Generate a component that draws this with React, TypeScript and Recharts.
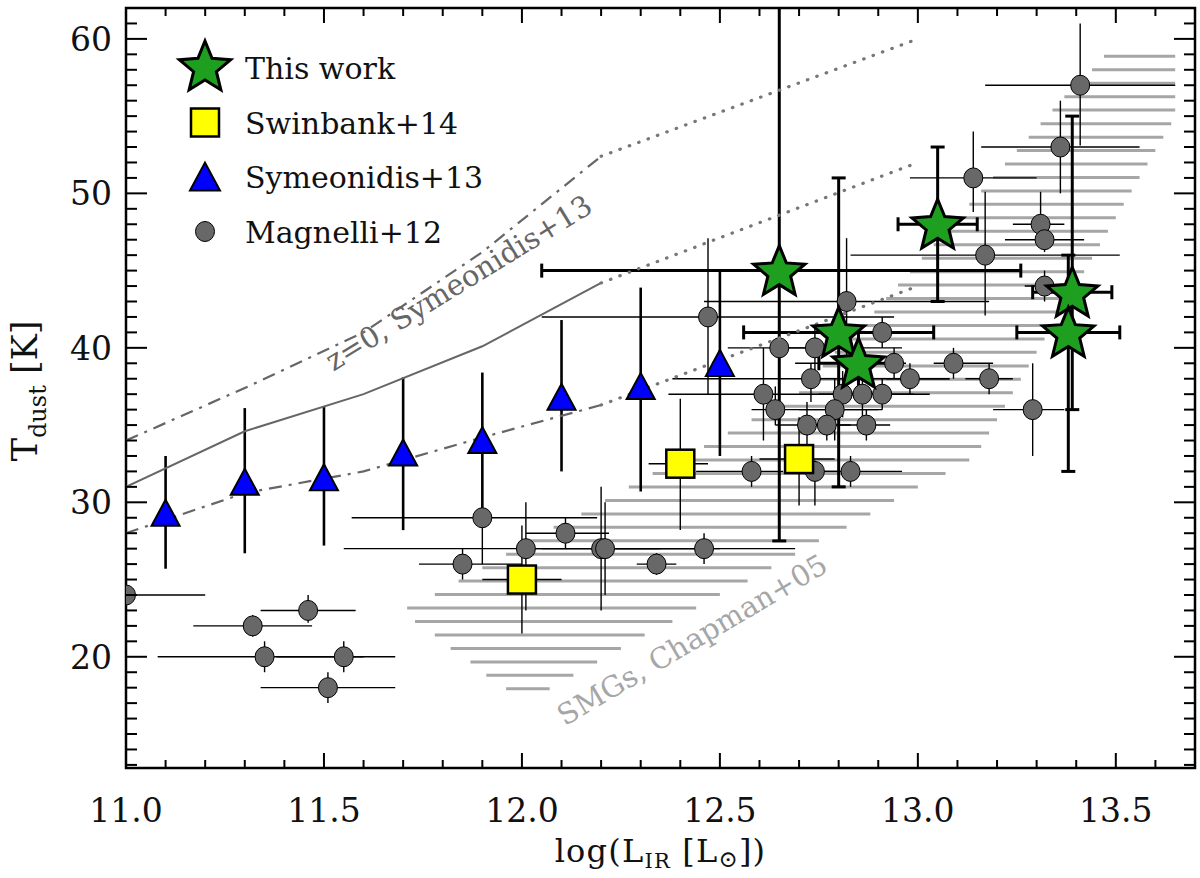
import React from "react"
import {
  ScatterChart,
  Scatter,
  XAxis,
  YAxis,
  ErrorBar,
  ReferenceArea,
  ReferenceDot,
} from "recharts"

// layout (px) — plot frame sits at these edges
const WIDTH = 1200
const HEIGHT = 878
const PLOT_LEFT = 126
const PLOT_TOP = 8
const PLOT_RIGHT = 1195
const PLOT_BOTTOM = 768

const X_DOMAIN = [11.0, 13.7]
const Y_DOMAIN = [12.8, 62]

const FONT = "'DejaVu Serif', 'Liberation Serif', serif"

// ---- ticks ----
const xTicks = [
  11.0, 11.1, 11.2, 11.3, 11.4, 11.5, 11.6, 11.7, 11.8, 11.9,
  12.0, 12.1, 12.2, 12.3, 12.4, 12.5, 12.6, 12.7, 12.8, 12.9,
  13.0, 13.1, 13.2, 13.3, 13.4, 13.5, 13.6,
]
const xMajor = [11.0, 11.5, 12.0, 12.5, 13.0, 13.5]

const yTicks = [
  13, 14, 15, 16, 17, 18, 19, 20, 21, 22, 23, 24, 25, 26, 27, 28, 29, 30,
  31, 32, 33, 34, 35, 36, 37, 38, 39, 40, 41, 42, 43, 44, 45, 46, 47, 48,
  49, 50, 51, 52, 53, 54, 55, 56, 57, 58, 59, 60, 61,
]
const yMajor = [20, 30, 40, 50, 60]

// ---- This work (stars) ----
const starX   = [12.65, 12.80, 12.85, 13.05, 13.39, 13.38]
const starY   = [45.0, 41.0, 39.0, 48.0, 43.6, 41.0]
const starXLo = [12.05, 12.56, 12.75, 12.95, 13.29, 13.25]
const starXHi = [13.26, 13.04, 12.95, 13.15, 13.49, 13.51]
const starYLo = [27.5, 31.0, 37.0, 43.0, 36.0, 32.0]
const starYHi = [64.0, 51.0, 41.0, 53.0, 55.0, 46.0]

// ---- Swinbank+14 (squares) ----
const swinX   = [12.00, 12.40, 12.70]
const swinY   = [25.0, 32.5, 32.8]
const swinXLo = [11.90, 12.32, 12.60]
const swinXHi = [12.10, 12.47, 12.79]
const swinYLo = [21.5, 28.2, 29.8]
const swinYHi = [28.5, 36.7, 35.5]

// ---- Symeonidis+13 (triangles) ----
const symX   = [11.1, 11.3, 11.5, 11.7, 11.9, 12.1, 12.3, 12.5]
const symY   = [29.3, 31.3, 31.6, 33.2, 34.0, 36.8, 37.5, 39.0]
const symYLo = [25.7, 26.7, 27.2, 28.2, 29.5, 32.0, 30.7, 33.0]
const symYHi = [33.0, 36.1, 36.2, 38.1, 38.4, 41.8, 43.9, 45.0]

// ---- Magnelli+12 (circles) ----
const magX = [
  11.00, 11.32, 11.46, 11.35, 11.55, 11.51, 11.85, 11.90, 12.01, 12.11,
  12.20, 12.21, 12.34, 12.46, 12.58, 12.74, 12.83, 12.47, 12.82, 12.65,
  12.74, 12.91, 12.73, 12.94, 12.98, 13.09, 13.18, 12.61, 12.81, 12.86,
  12.91, 12.64, 12.79, 12.72, 12.77, 12.87, 13.29, 13.41, 13.36, 13.14,
  13.31, 13.32, 13.17, 13.32,
]
const magY = [
  24.0, 22.0, 23.0, 20.0, 20.0, 18.0, 26.0, 29.0, 27.0, 28.0,
  27.0, 27.0, 26.0, 27.0, 32.0, 32.0, 32.0, 42.0, 43.0, 40.0,
  40.0, 41.0, 38.0, 39.0, 38.0, 39.0, 38.0, 37.0, 37.0, 37.0,
  37.0, 36.0, 36.0, 35.0, 35.0, 35.0, 36.0, 57.0, 53.0, 51.0,
  48.0, 47.0, 46.0, 44.0,
]
const magXLo = [
  10.80, 11.17, 11.34, 11.08, 11.38, 11.34, 11.74, 11.57, 11.55, 12.01,
  12.00, 12.05, 12.29, 12.21, 12.44, 12.68, 12.73, 12.05, 12.46, 12.52,
  12.65, 12.85, 12.38, 12.69, 12.92, 13.04, 13.12, 12.37, 12.75, 12.80,
  12.85, 12.58, 12.70, 12.64, 12.70, 12.80, 13.19, 13.17, 13.16, 12.98,
  13.24, 13.22, 12.83, 13.27,
]
const magXHi = [
  11.20, 11.47, 11.58, 11.60, 11.68, 11.68, 12.00, 12.19, 12.35, 12.22,
  12.45, 12.50, 12.39, 12.69, 12.66, 12.80, 12.96, 12.94, 13.18, 12.96,
  12.85, 12.96, 13.08, 12.97, 13.08, 13.19, 13.24, 13.03, 12.88, 12.92,
  12.99, 12.91, 12.90, 12.80, 12.83, 12.93, 13.37, 13.65, 13.56, 13.30,
  13.37, 13.42, 13.51, 13.37,
]
const magYLo = [
  23.5, 21.3, 22.2, 19.0, 19.0, 17.0, 25.0, 26.0, 23.0, 27.0,
  23.0, 24.0, 25.3, 26.0, 31.0, 29.8, 31.0, 37.0, 38.0, 36.0,
  38.5, 40.0, 36.5, 38.0, 37.0, 38.0, 37.0, 34.0, 35.5, 35.0,
  36.0, 35.0, 34.0, 33.5, 34.0, 34.0, 33.0, 53.1, 50.0, 48.8,
  47.2, 46.2, 42.1, 43.0,
]
const magYHi = [
  24.5, 22.7, 24.0, 21.0, 21.0, 19.0, 27.0, 30.0, 30.0, 29.0,
  31.0, 30.0, 26.7, 28.0, 33.0, 32.7, 33.0, 47.1, 47.1, 41.0,
  41.5, 42.0, 39.0, 40.0, 39.0, 40.0, 39.0, 40.0, 38.5, 39.0,
  38.0, 37.5, 38.0, 36.5, 36.0, 36.0, 39.0, 61.0, 56.0, 54.0,
  50.1, 47.8, 50.1, 45.0,
]

// ---- z=0 relation, Symeonidis+13 ----
const modelX    = [11.0, 11.3, 11.6, 11.9, 12.2]
const modelMid  = [31.0, 34.6, 37.0, 40.1, 44.2]
const modelHigh = [34.0, 37.4, 41.0, 46.2, 52.4]
const modelLow  = [28.0, 30.6, 32.0, 34.2, 36.3]
const extrapX    = [12.2, 13.0]
const extrapMid  = [44.2, 52.0]
const extrapHigh = [52.4, 60.0]
const extrapLow  = [36.3, 44.0]

// ---- SMGs, Chapman+05 hatched region (one row per hatch line) ----
const smgY = [
  17.93, 18.80, 19.67, 20.54, 21.41, 22.29, 23.16, 24.03, 24.90, 25.77,
  26.64, 27.51, 28.38, 29.25, 30.12, 30.99, 31.87, 32.74, 33.61, 34.48,
  35.35, 36.22, 37.09, 37.96, 38.83, 39.71, 40.58, 41.45, 42.32, 43.19,
  44.06, 44.93, 45.80, 46.67, 47.55, 48.42, 49.29, 50.16, 51.03, 51.90,
  52.77, 53.64, 54.51, 55.39, 56.26, 57.13, 58.00, 58.87,
]
const smgLeft = [
  11.96, 11.91, 11.87, 11.82, 11.78, 11.73, 11.71, 11.78, 11.84, 11.90,
  11.96, 12.01, 12.08, 12.15, 12.21, 12.27, 12.33, 12.40, 12.46, 12.52,
  12.58, 12.66, 12.70, 12.73, 12.76, 12.79, 12.83, 12.86, 12.89, 12.92,
  12.95, 12.98, 13.01, 13.04, 13.07, 13.10, 13.13, 13.16, 13.19, 13.22,
  13.25, 13.28, 13.31, 13.34, 13.37, 13.40, 13.44, 13.47,
]
const smgRight = [
  12.07, 12.13, 12.19, 12.25, 12.31, 12.38, 12.44, 12.50, 12.57, 12.63,
  12.69, 12.75, 12.82, 12.88, 12.94, 13.00, 13.07, 13.13, 13.16, 13.18,
  13.20, 13.22, 13.24, 13.26, 13.28, 13.30, 13.32, 13.34, 13.36, 13.38,
  13.40, 13.42, 13.44, 13.46, 13.48, 13.50, 13.52, 13.54, 13.56, 13.58,
  13.60, 13.62, 13.64, 13.65, 13.65, 13.65, 13.65, 13.65,
]

// label anchors (data coords)
const modelLabelAt = { x: 11.84, y: 44.2 }
const smgLabelAt = { x: 12.43, y: 21.1 }

// ---- build series data ----
const withErr = (xs, ys, xlo, xhi, ylo, yhi) =>
  xs.map((x, i) => ({
    x,
    y: ys[i],
    ex: xlo ? [x - xlo[i], xhi[i] - x] : [0, 0],
    ey: [ys[i] - ylo[i], yhi[i] - ys[i]],
  }))

const starData = withErr(starX, starY, starXLo, starXHi, starYLo, starYHi)
const swinData = withErr(swinX, swinY, swinXLo, swinXHi, swinYLo, swinYHi)
const symData = withErr(symX, symY, null, null, symYLo, symYHi)
const magData = withErr(magX, magY, magXLo, magXHi, magYLo, magYHi)
const smgData = smgY.map((y, i) => ({
  x: smgLeft[i],
  y,
  span: [0, smgRight[i] - smgLeft[i]],
}))
const toLine = (xs, ys) => xs.map((x, i) => ({ x, y: ys[i] }))

// ---- marker shapes ----
const STAR_GREEN = "#1f9f1f"

function starPoints(cx: number, cy: number, R: number, r: number) {
  const pts: string[] = []
  for (let i = 0; i < 10; i++) {
    const rad = i % 2 === 0 ? R : r
    const a = -Math.PI / 2 + (i * Math.PI) / 5
    pts.push(`${cx + rad * Math.cos(a)},${cy + rad * Math.sin(a)}`)
  }
  return pts.join(" ")
}

const Star = ({ cx, cy }) => (
  <polygon
    points={starPoints(cx, cy + 2, 27, 12)}
    fill={STAR_GREEN}
    stroke="#000"
    strokeWidth={3}
    strokeLinejoin="miter"
  />
)
const Square = ({ cx, cy }) => (
  <rect x={cx - 14} y={cy - 14} width={28} height={28} fill="#ffff00" stroke="#000" strokeWidth={2.5} />
)
const Triangle = ({ cx, cy, s = 28 }) => (
  <polygon
    points={`${cx},${cy - s * 0.48} ${cx + s / 2},${cy + s * 0.45} ${cx - s / 2},${cy + s * 0.45}`}
    fill="#0000ff"
    stroke="#000"
    strokeWidth={2}
  />
)
const Dot = ({ cx, cy }) => (
  <ellipse cx={cx} cy={cy} rx={9.5} ry={10} fill="#686868" stroke="#000" strokeWidth={1} />
)
const NoShape = () => <g />

// ---- axis ticks (drawn inward, mirrored on top/right) ----
function XTick({ x, payload }) {
  const v = payload.value
  const major = xMajor.includes(v)
  const len = major ? 15 : 8
  return (
    <g>
      <line x1={x} x2={x} y1={PLOT_BOTTOM} y2={PLOT_BOTTOM - len} stroke="#000" strokeWidth={2} />
      <line x1={x} x2={x} y1={PLOT_TOP} y2={PLOT_TOP + len} stroke="#000" strokeWidth={2} />
      {major && (
        <text x={x} y={PLOT_BOTTOM + 54} textAnchor="middle" fontFamily={FONT} fontSize={33} fill="#111">
          {v.toFixed(1)}
        </text>
      )}
    </g>
  )
}

function YTick({ y, payload }) {
  const v = payload.value
  const major = yMajor.includes(v)
  const len = major ? 21 : 11
  return (
    <g>
      <line x1={PLOT_LEFT} x2={PLOT_LEFT + len} y1={y} y2={y} stroke="#000" strokeWidth={2} />
      <line x1={PLOT_RIGHT} x2={PLOT_RIGHT - len} y1={y} y2={y} stroke="#000" strokeWidth={2} />
      {major && (
        <text x={PLOT_LEFT - 14} y={y + 12} textAnchor="end" fontFamily={FONT} fontSize={33} fill="#111">
          {v}
        </text>
      )}
    </g>
  )
}

const XTitle = () => (
  <text
    x={(PLOT_LEFT + PLOT_RIGHT) / 2}
    y={862}
    textAnchor="middle"
    fontFamily={FONT}
    fontSize={32}
    letterSpacing={1.2}
    fill="#111"
  >
    log(L
    <tspan dy={6} fontSize={21}>IR</tspan>
    <tspan dy={-6}>{"  [L"}</tspan>
    <tspan dy={5} fontSize={23}>⊙</tspan>
    <tspan dy={-5}>])</tspan>
  </text>
)

const YTitle = () => (
  <text
    transform="translate(37, 391) rotate(-90)"
    textAnchor="middle"
    fontFamily={FONT}
    fontSize={35}
    fill="#111"
  >
    T
    <tspan dy={9} fontSize={24}>dust</tspan>
    <tspan dy={-9}>{"  [K]"}</tspan>
  </text>
)

function rotatedLabel(text: string, color: string, angle: number) {
  return ({ viewBox }) => {
    const cx = viewBox.x + (viewBox.width || 0) / 2
    const cy = viewBox.y + (viewBox.height || 0) / 2
    return (
      <text
        transform={`translate(${cx}, ${cy}) rotate(${angle})`}
        textAnchor="middle"
        dominantBaseline="central"
        fontFamily={FONT}
        fontSize={29}
        fill={color}
      >
        {text}
      </text>
    )
  }
}

// ---- legend (overlay, top-left of the plot) ----
const LEGEND_ROWS = [
  { label: "This work", kind: "star" },
  { label: "Swinbank+14", kind: "square" },
  { label: "Symeonidis+13", kind: "triangle" },
  { label: "Magnelli+12", kind: "dot" },
]

function ChartLegend() {
  return (
    <svg width={520} height={270} style={{ position: "absolute", left: 0, top: 0, pointerEvents: "none" }}>
      {LEGEND_ROWS.map((row, i) => {
        const cy = 68 + i * 54.5
        const cx = 205
        return (
          <g key={row.label}>
            {row.kind === "star" && <Star cx={cx} cy={cy - 2} />}
            {row.kind === "square" && <Square cx={cx} cy={cy} />}
            {row.kind === "triangle" && <Triangle cx={cx} cy={cy} s={30} />}
            {row.kind === "dot" && <Dot cx={cx} cy={cy} />}
            <text x={245} y={cy + 11} fontFamily={FONT} fontSize={30} fill="#111">
              {row.label}
            </text>
          </g>
        )
      })}
    </svg>
  )
}

// clip data marks and their error bars to the plot frame
function PlotClip() {
  return (
    <>
      <style>{`.recharts-scatter, .recharts-errorBar { clip-path: url(#plot-clip); }`}</style>
      <svg width={0} height={0} style={{ position: "absolute" }}>
        <defs>
          <clipPath id="plot-clip" clipPathUnits="userSpaceOnUse">
            <rect x={PLOT_LEFT} y={PLOT_TOP} width={PLOT_RIGHT - PLOT_LEFT} height={PLOT_BOTTOM - PLOT_TOP} />
          </clipPath>
        </defs>
      </svg>
    </>
  )
}

const DOTTED = { stroke: "#777", strokeWidth: 3.2, strokeDasharray: "0.5 9.5", strokeLinecap: "round" }
const DASHDOT = { stroke: "#666", strokeWidth: 2.2, strokeDasharray: "13 7 3 7" }

export default function App() {
  return (
    <div style={{ position: "absolute", left: 0, top: 0, width: WIDTH, height: HEIGHT, background: "#fff" }}>
      <PlotClip />
      <ScatterChart
        width={WIDTH}
        height={HEIGHT}
        margin={{ top: PLOT_TOP, right: WIDTH - PLOT_RIGHT, bottom: 0, left: 0 }}
      >
        <XAxis
          type="number"
          dataKey="x"
          domain={X_DOMAIN}
          ticks={xTicks}
          interval={0}
          tick={XTick}
          tickLine={false}
          axisLine={false}
          height={HEIGHT - PLOT_BOTTOM}
          allowDataOverflow
          label={{ content: XTitle }}
        />
        <YAxis
          type="number"
          dataKey="y"
          domain={Y_DOMAIN}
          ticks={yTicks}
          interval={0}
          tick={YTick}
          tickLine={false}
          axisLine={false}
          width={PLOT_LEFT}
          allowDataOverflow
          label={{ content: YTitle }}
        />

        {/* SMG hatch: each hatch line is an x-span from its left edge */}
        <Scatter data={smgData} shape={NoShape} isAnimationActive={false}>
          <ErrorBar dataKey="span" direction="x" width={0} stroke="#a6a6a6" strokeWidth={3} isAnimationActive={false} />
        </Scatter>

        {/* Magnelli+12 */}
        <Scatter data={magData} shape={Dot} isAnimationActive={false}>
          <ErrorBar dataKey="ex" direction="x" width={0} stroke="#000" strokeWidth={1.4} isAnimationActive={false} />
          <ErrorBar dataKey="ey" direction="y" width={0} stroke="#000" strokeWidth={1.4} isAnimationActive={false} />
        </Scatter>

        {/* z=0 relation */}
        <Scatter data={toLine(modelX, modelMid)} shape={NoShape} line={{ stroke: "#666", strokeWidth: 2 }} isAnimationActive={false} />
        <Scatter data={toLine(modelX, modelHigh)} shape={NoShape} line={DASHDOT} isAnimationActive={false} />
        <Scatter data={toLine(modelX, modelLow)} shape={NoShape} line={DASHDOT} isAnimationActive={false} />
        <Scatter data={toLine(extrapX, extrapMid)} shape={NoShape} line={DOTTED} isAnimationActive={false} />
        <Scatter data={toLine(extrapX, extrapHigh)} shape={NoShape} line={DOTTED} isAnimationActive={false} />
        <Scatter data={toLine(extrapX, extrapLow)} shape={NoShape} line={DOTTED} isAnimationActive={false} />

        {/* Symeonidis+13 */}
        <Scatter data={symData} shape={Triangle} isAnimationActive={false}>
          <ErrorBar dataKey="ey" direction="y" width={0} stroke="#000" strokeWidth={2.6} isAnimationActive={false} />
        </Scatter>

        {/* Swinbank+14 */}
        <Scatter data={swinData} shape={Square} isAnimationActive={false}>
          <ErrorBar dataKey="ex" direction="x" width={0} stroke="#000" strokeWidth={1.4} isAnimationActive={false} />
          <ErrorBar dataKey="ey" direction="y" width={0} stroke="#000" strokeWidth={1.4} isAnimationActive={false} />
        </Scatter>

        {/* This work */}
        <Scatter data={starData} shape={Star} isAnimationActive={false}>
          <ErrorBar dataKey="ex" direction="x" width={7} stroke="#000" strokeWidth={3} isAnimationActive={false} />
          <ErrorBar dataKey="ey" direction="y" width={7} stroke="#000" strokeWidth={3} isAnimationActive={false} />
        </Scatter>

        <ReferenceDot
          x={modelLabelAt.x}
          y={modelLabelAt.y}
          r={0}
          fill="none"
          stroke="none"
          label={{ content: rotatedLabel("z=0, Symeonidis+13", "#666", -31.6) }}
        />
        <ReferenceDot
          x={smgLabelAt.x}
          y={smgLabelAt.y}
          r={0}
          fill="none"
          stroke="none"
          label={{ content: rotatedLabel("SMGs, Chapman+05", "#a6a6a6", -30.5) }}
        />

        {/* plot frame */}
        <ReferenceArea
          x1={X_DOMAIN[0]}
          x2={X_DOMAIN[1]}
          y1={Y_DOMAIN[0]}
          y2={Y_DOMAIN[1]}
          fill="none"
          fillOpacity={0}
          stroke="#000"
          strokeWidth={2.5}
          ifOverflow="visible"
        />
      </ScatterChart>
      <ChartLegend />
    </div>
  )
}
